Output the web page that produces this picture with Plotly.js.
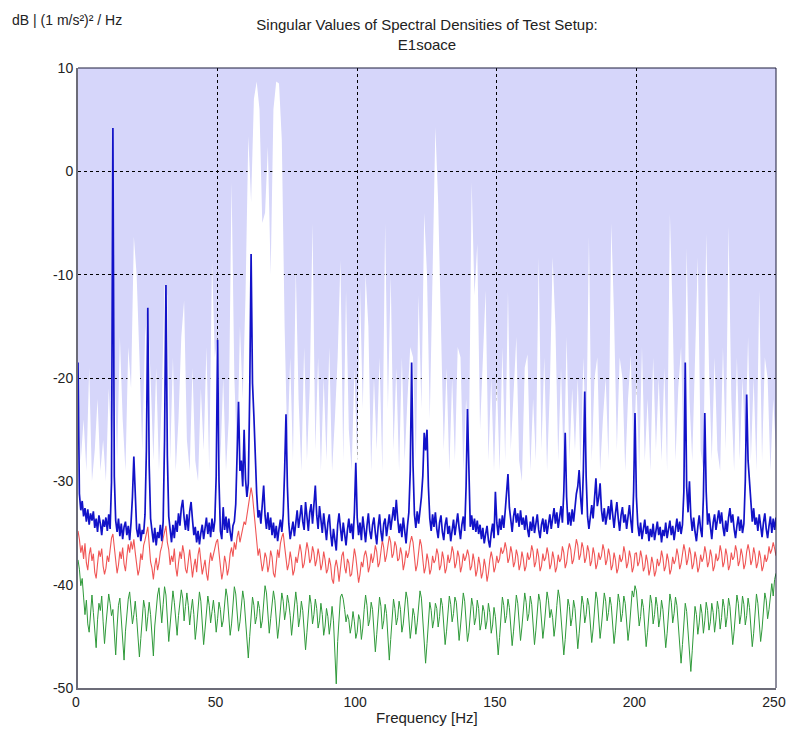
<!DOCTYPE html>
<html>
<head>
<meta charset="utf-8">
<script src="https://cdn.plot.ly/plotly-3.0.1.min.js"></script>
<style>html,body{margin:0;padding:0;background:#fff;}#chart{width:786px;height:729px;}</style>
</head>
<body>
<div id="chart"></div>
<script>
// Frequency resolution of the line series (Hz) and envelope (Hz)
const lineStep = 0.5;
const envStep = 1;

// 1st singular value (blue), dB, 0..250 Hz step 0.5
const sv1 = [
-18.5,-31.2,-32.8,-31.9,-33.4,-32.6,-33.9,-32.7,-34.2,-33.1, -33.8,-32.9,-34.5,-33.6,-34.9,-33.3,-34.1,-35.2,-33.7,-34.4,
-33.5,-34.8,-33.2,-34.6,-30.1,4.2,-29.5,-33.8,-34.9,-33.6, -35.3,-34.1,-35.6,-34.4,-33.9,-35.2,-34.3,-35.7,-34.0,-31.5,
-27.6,-32.4,-34.6,-35.4,-34.1,-35.8,-34.7,-35.1,-33.2,-27.0, -13.2,-28.5,-33.6,-34.8,-35.9,-34.5,-36.2,-34.9,-35.5,-34.2,
-35.8,-33.9,-26.0,-11.0,-27.5,-33.4,-34.6,-35.9,-34.2,-35.5, -33.8,-34.9,-33.1,-34.3,-32.6,-31.8,-33.5,-34.7,-33.2,-34.8,
-32.9,-32.0,-33.7,-35.2,-34.4,-35.9,-34.8,-36.1,-35.0,-34.2, -35.6,-34.3,-33.5,-35.1,-34.0,-35.4,-33.6,-34.9,-33.8,-29.5,
-16.3,-30.0,-34.8,-35.6,-32.5,-34.7,-33.4,-35.0,-33.6,-34.9, -35.8,-34.3,-33.9,-32.2,-28.0,-22.3,-29.0,-28.0,-30.5,-25.0,
-29.8,-31.5,-30.2,-21.5,-8.0,-20.5,-23.7,-28.5,-31.2,-33.5, -32.8,-34.1,-32.0,-30.4,-33.3,-34.6,-33.0,-34.7,-33.5,-35.2,
-34.0,-35.5,-34.3,-35.8,-34.6,-33.7,-34.9,-33.2,-29.0,-23.5, -30.5,-34.1,-35.6,-34.8,-33.9,-35.3,-34.0,-32.8,-34.5,-33.1,
-32.3,-33.9,-34.7,-32.0,-33.4,-34.8,-33.0,-32.2,-34.1,-32.6, -30.4,-33.3,-34.6,-32.4,-33.8,-35.0,-33.1,-34.4,-35.7,-34.0,
-33.2,-35.1,-36.3,-34.6,-35.9,-36.7,-34.2,-33.1,-34.5,-35.8, -34.0,-35.3,-36.2,-34.7,-33.6,-35.0,-34.1,-35.6,-33.0,-28.2,
-33.5,-35.2,-34.0,-35.7,-33.4,-34.6,-35.9,-34.3,-33.1,-34.8, -35.6,-34.2,-33.5,-35.0,-36.1,-34.4,-33.2,-34.9,-35.8,-34.1,
-33.6,-35.3,-34.0,-33.2,-34.7,-33.4,-32.5,-33.8,-31.8,-33.6, -35.0,-34.1,-35.4,-33.5,-34.8,-36.0,-34.3,-33.0,-29.0,-18.5,
-28.5,-33.2,-34.5,-32.9,-34.1,-33.0,-31.5,-29.5,-25.3,-27.0, -25.0,-30.5,-33.6,-34.8,-33.2,-34.4,-33.0,-34.6,-35.5,-34.0,
-33.3,-34.9,-35.7,-34.2,-33.5,-35.1,-34.3,-35.8,-34.6,-33.7, -35.2,-34.0,-33.1,-34.5,-35.6,-34.2,-33.4,-34.8,-30.5,-23.0,
-30.0,-34.4,-33.3,-34.7,-33.6,-34.9,-33.8,-35.1,-34.2,-35.6, -34.5,-36.0,-35.1,-34.3,-35.7,-36.4,-35.0,-34.1,-35.5,-31.0,
-34.0,-35.2,-33.6,-34.7,-33.3,-34.5,-32.9,-31.0,-29.3,-32.5, -33.8,-34.9,-33.4,-32.6,-34.0,-33.1,-34.4,-32.8,-34.2,-33.5,
-34.7,-33.3,-34.6,-35.4,-33.9,-34.8,-33.4,-35.0,-34.1,-33.2, -34.7,-35.5,-34.2,-33.6,-34.9,-33.7,-35.1,-34.0,-33.2,-34.6,
-33.4,-32.6,-34.1,-33.0,-34.5,-33.3,-32.4,-34.0,-31.0,-25.3, -31.5,-34.2,-33.0,-34.3,-32.7,-33.9,-32.5,-31.2,-30.5,-28.9,
-31.5,-33.2,-29.0,-21.3,-29.5,-33.4,-34.6,-33.1,-32.3,-33.6, -31.5,-29.7,-32.4,-31.6,-30.2,-32.8,-33.9,-32.6,-34.2,-33.0,
-32.4,-33.7,-31.8,-33.2,-34.5,-33.1,-32.0,-33.6,-34.8,-33.3, -32.5,-34.0,-33.2,-34.6,-33.5,-32.3,-33.8,-35.0,-31.0,-23.4,
-31.5,-34.2,-35.3,-34.0,-35.6,-34.5,-33.7,-35.1,-34.3,-35.8, -34.6,-35.4,-34.1,-35.7,-34.8,-33.9,-35.2,-34.4,-35.9,-34.7,
-35.3,-34.0,-35.5,-34.6,-33.8,-35.2,-34.3,-35.7,-34.5,-33.6, -34.9,-33.9,-35.1,-34.2,-31.0,-18.5,-30.5,-33.0,-30.0,-33.4,
-34.8,-33.5,-34.9,-35.8,-34.4,-33.3,-34.6,-35.4,-31.5,-23.4, -31.0,-34.2,-33.1,-34.5,-35.6,-34.0,-33.2,-34.7,-33.5,-32.8,
-34.1,-33.0,-34.4,-35.3,-33.8,-34.9,-33.5,-32.6,-34.0,-33.2, -34.6,-35.5,-34.3,-33.4,-34.8,-33.7,-35.0,-34.1,-30.0,-21.6,
-28.0,-30.0,-32.8,-33.9,-32.6,-34.2,-33.5,-34.8,-33.2,-34.5, -35.4,-34.0,-33.1,-34.6,-35.5,-34.3,-33.4,-35.0,-33.6,-34.7,
-33.5
];

// 2nd singular value (red)
const sv2 = [
-34.8,-35.6,-36.9,-36.2,-37.5,-36.0,-37.9,-38.6,-37.1,-36.4, -37.7,-37.0,-38.8,-39.4,-38.0,-36.7,-37.3,-36.5,-38.2,-39.0,
-38.4,-37.2,-37.8,-36.3,-35.5,-35.1,-36.2,-37.6,-38.9,-38.1, -36.8,-37.5,-36.4,-38.0,-38.7,-37.3,-36.1,-36.9,-35.8,-36.6,
-35.6,-36.9,-38.3,-39.1,-38.5,-37.0,-37.6,-36.2,-35.7,-34.9, -34.4,-36.1,-37.8,-38.4,-39.5,-38.2,-37.4,-38.6,-37.9,-36.8,
-36.3,-35.5,-34.8,-34.3,-35.9,-36.6,-38.1,-37.2,-37.8,-36.5, -38.3,-39.2,-37.9,-36.8,-37.5,-36.2,-37.0,-38.5,-38.9,-37.4,
-36.6,-37.9,-39.3,-38.2,-37.5,-38.8,-37.1,-36.4,-37.6,-39.0, -38.3,-37.6,-38.9,-39.6,-38.0,-36.9,-37.7,-37.0,-36.3,-35.9,
-35.6,-36.8,-38.3,-39.5,-38.7,-37.2,-37.9,-39.1,-38.4,-37.0, -36.4,-37.3,-35.9,-36.6,-35.4,-34.8,-35.9,-35.1,-34.5,-33.9,
-34.2,-33.4,-32.6,-31.6,-30.6,-31.4,-33.0,-34.8,-35.6,-37.2, -36.5,-37.6,-38.7,-38.0,-36.9,-37.4,-38.8,-38.1,-36.7,-37.3,
-38.9,-39.3,-37.8,-36.6,-37.4,-36.0,-35.4,-35.0,-36.3,-37.5, -38.6,-38.0,-36.8,-37.7,-39.1,-38.6,-37.3,-37.9,-37.0,-36.1,
-36.9,-38.4,-38.0,-36.7,-35.9,-36.6,-37.9,-37.5,-36.3,-36.9, -38.2,-37.6,-36.5,-37.3,-38.6,-38.0,-36.8,-37.6,-38.9,-38.5,
-37.4,-38.1,-39.5,-39.9,-38.3,-37.6,-38.4,-39.7,-38.6,-37.2, -36.8,-38.3,-38.9,-37.5,-37.9,-39.2,-39.0,-37.6,-36.5,-37.3,
-38.7,-39.8,-39.0,-37.8,-38.3,-37.2,-36.7,-37.4,-38.8,-38.2, -37.0,-37.9,-37.3,-36.2,-36.8,-38.3,-37.9,-36.6,-35.7,-36.4,
-37.8,-37.2,-36.0,-35.3,-35.9,-37.4,-37.0,-35.8,-36.3,-37.7, -37.5,-36.4,-37.1,-38.6,-37.9,-36.7,-37.4,-36.9,-35.9,-35.3,
-35.9,-37.3,-38.7,-38.1,-36.8,-35.6,-36.2,-37.6,-38.9,-38.3, -37.0,-37.7,-39.0,-38.5,-37.2,-37.9,-37.6,-36.5,-37.1,-38.6,
-38.1,-36.8,-37.5,-38.9,-38.4,-37.1,-37.9,-37.4,-36.3,-36.9, -38.4,-37.9,-36.7,-37.3,-38.8,-38.2,-37.0,-37.7,-37.3,-36.6,
-37.2,-38.6,-38.2,-37.0,-37.8,-39.2,-38.6,-37.3,-38.1,-39.4, -38.8,-37.5,-38.3,-39.7,-38.9,-37.6,-36.8,-37.5,-38.8,-38.3,
-37.2,-37.9,-37.5,-36.4,-37.0,-36.7,-35.9,-36.6,-37.9,-37.4, -36.3,-37.0,-38.3,-37.8,-36.6,-37.2,-38.6,-38.0,-36.8,-37.5,
-38.7,-38.2,-36.9,-37.6,-37.3,-36.2,-36.8,-38.3,-37.8,-36.5, -37.3,-38.7,-38.2,-37.0,-37.7,-37.4,-36.4,-37.1,-38.5,-38.0,
-36.8,-37.5,-38.8,-38.3,-37.1,-37.8,-37.5,-36.3,-36.9,-38.4, -37.9,-36.7,-36.0,-36.6,-38.0,-37.6,-36.3,-35.6,-36.2,-37.6,
-37.1,-35.9,-36.5,-37.9,-37.4,-36.2,-36.8,-38.2,-37.7,-36.4, -37.1,-38.5,-38.0,-36.9,-37.6,-37.2,-36.1,-36.7,-38.1,-37.6,
-36.5,-37.2,-38.6,-38.1,-36.9,-37.6,-38.9,-38.4,-37.1,-37.8, -37.5,-36.3,-37.0,-38.4,-37.9,-36.7,-37.4,-38.8,-38.3,-37.0,
-36.9,-38.2,-37.8,-36.7,-37.4,-38.7,-38.3,-37.1,-37.8,-39.1, -38.5,-37.3,-38.0,-39.2,-38.7,-37.5,-38.2,-37.8,-36.7,-37.4,
-38.7,-38.2,-37.0,-37.7,-39.0,-38.5,-37.3,-38.0,-37.6,-36.5, -37.2,-38.5,-38.0,-36.9,-36.1,-36.8,-38.1,-37.5,-36.4,-37.1,
-38.5,-38.0,-36.8,-37.5,-38.8,-38.3,-37.1,-37.8,-37.4,-36.3, -37.0,-38.3,-37.8,-36.6,-37.3,-38.7,-38.2,-37.0,-37.7,-37.4,
-36.2,-36.9,-38.3,-37.8,-36.5,-37.2,-38.6,-38.1,-36.9,-37.6, -37.3,-36.2,-36.8,-38.2,-37.7,-36.5,-37.2,-38.5,-38.0,-36.8,
-36.1,-36.8,-38.1,-37.6,-36.4,-37.1,-38.4,-37.9,-36.7,-37.4, -38.7,-38.2,-37.1,-37.8,-37.4,-36.3,-37.0,-36.6,-35.9,-36.5,
-37.2
];

// 3rd singular value (green)
const sv3 = [
-37.6,-38.5,-40.1,-39.4,-41.2,-42.9,-41.5,-43.8,-44.6,-42.3, -41.0,-42.7,-44.9,-46.1,-43.4,-41.8,-42.5,-41.1,-43.6,-45.7,
-43.9,-42.2,-40.9,-41.8,-43.0,-42.4,-44.3,-46.8,-44.1,-42.0, -41.3,-43.5,-45.9,-47.3,-44.5,-42.6,-41.4,-40.7,-42.1,-43.8,
-42.9,-41.6,-43.2,-44.8,-47.0,-45.2,-42.8,-41.5,-42.3,-44.5, -43.1,-41.7,-42.9,-45.6,-46.9,-44.0,-42.4,-41.0,-40.3,-42.6,
-43.7,-41.9,-40.2,-41.0,-42.8,-45.5,-43.9,-42.0,-40.6,-41.7, -43.4,-44.9,-43.0,-41.9,-40.5,-41.3,-43.5,-42.1,-40.8,-42.0,
-43.9,-42.5,-41.4,-42.9,-45.3,-44.0,-42.2,-40.7,-41.6,-43.9, -45.8,-44.3,-42.7,-41.1,-42.0,-43.7,-42.6,-41.5,-42.8,-44.6,
-43.3,-41.7,-42.4,-44.1,-43.5,-41.9,-40.4,-41.2,-42.8,-44.9, -43.8,-42.1,-40.2,-40.9,-42.7,-44.5,-43.6,-41.8,-40.6,-41.5,
-43.2,-45.4,-47.1,-45.0,-42.9,-41.2,-42.0,-43.8,-43.1,-41.6, -42.3,-44.2,-43.5,-41.8,-40.1,-40.8,-42.6,-44.7,-43.3,-41.9,
-40.6,-41.5,-43.1,-45.2,-44.0,-42.1,-40.8,-41.6,-43.4,-42.5, -41.0,-41.8,-43.0,-44.9,-43.7,-42.0,-40.7,-41.9,-44.1,-43.2,
-41.6,-42.5,-44.4,-46.3,-44.6,-42.5,-41.0,-41.9,-43.8,-42.9, -41.4,-42.3,-44.2,-43.5,-41.8,-42.9,-44.9,-44.0,-42.3,-43.1,
-44.8,-43.7,-42.1,-43.5,-45.9,-49.6,-45.5,-43.2,-41.2,-40.9, -41.4,-42.4,-43.6,-42.9,-43.4,-44.7,-43.9,-42.6,-43.6,-45.2,
-44.6,-42.9,-43.4,-45.3,-44.2,-42.4,-41.0,-42.0,-44.0,-43.4, -41.7,-42.4,-44.5,-46.5,-44.8,-42.6,-41.2,-42.1,-44.3,-43.5,
-41.9,-42.8,-45.0,-47.3,-45.3,-43.0,-41.4,-42.3,-43.9,-43.2, -41.6,-42.4,-44.6,-43.8,-42.1,-40.7,-41.4,-43.2,-45.2,-44.0,
-42.3,-43.0,-44.8,-43.7,-42.0,-40.6,-41.3,-43.1,-45.3,-47.6, -45.7,-43.4,-41.7,-42.5,-44.2,-43.4,-41.8,-42.3,-44.1,-43.1,
-41.3,-42.0,-43.7,-45.8,-44.5,-42.7,-41.1,-41.9,-43.6,-42.8, -41.2,-41.7,-43.3,-45.4,-44.0,-42.2,-40.8,-41.6,-43.4,-45.5,
-44.6,-42.8,-41.3,-42.1,-43.9,-43.2,-41.5,-42.3,-44.4,-43.7, -42.0,-42.6,-44.3,-43.5,-41.8,-42.7,-44.7,-43.9,-42.2,-43.1,
-45.0,-46.8,-45.1,-42.9,-41.2,-42.0,-43.7,-43.0,-41.4,-42.2, -44.0,-45.9,-44.5,-42.6,-41.0,-41.8,-43.6,-45.4,-44.1,-42.3,
-40.8,-41.7,-43.5,-42.8,-41.1,-41.9,-43.8,-45.8,-44.4,-42.4, -40.9,-41.6,-43.3,-45.2,-44.0,-42.1,-40.7,-41.5,-43.2,-42.4,
-43.2,-45.0,-43.9,-42.0,-40.5,-41.3,-43.0,-45.1,-46.8,-45.3, -43.1,-41.4,-42.1,-44.0,-43.2,-41.5,-42.3,-44.3,-46.2,-44.7,
-42.8,-41.1,-41.9,-43.7,-42.9,-41.3,-42.0,-43.9,-45.6,-44.3, -42.4,-40.7,-41.4,-43.3,-45.2,-43.9,-42.1,-40.8,-41.6,-43.5,
-42.7,-41.2,-42.0,-43.8,-45.7,-44.4,-42.5,-40.9,-41.7,-43.6, -42.8,-41.1,-41.8,-43.6,-45.4,-44.2,-42.3,-40.6,-41.2,-40.1,
-40.6,-42.1,-44.0,-43.1,-41.4,-42.2,-44.2,-46.0,-44.6,-42.7, -41.0,-41.8,-43.8,-42.9,-41.2,-42.1,-44.1,-43.2,-41.5,-42.4,
-44.3,-46.1,-44.7,-42.5,-40.9,-41.7,-43.7,-42.8,-41.2,-42.0, -43.9,-45.8,-47.6,-45.8,-43.5,-41.8,-42.6,-44.5,-47.2,-48.4,
-46.4,-44.0,-42.1,-42.9,-44.8,-43.7,-41.9,-42.8,-44.7,-43.5, -41.7,-42.5,-44.4,-43.6,-41.8,-42.7,-44.6,-43.4,-41.6,-42.4,
-44.3,-43.2,-41.4,-42.2,-44.1,-43.1,-41.3,-42.1,-44.0,-45.8, -44.5,-42.6,-41.0,-41.8,-43.8,-42.9,-41.1,-41.9,-43.9,-43.0,
-41.3,-42.2,-44.1,-46.0,-44.7,-42.7,-40.9,-41.8,-43.7,-45.5, -44.3,-42.4,-40.8,-41.5,-43.3,-42.4,-40.7,-39.9,-41.1,-39.5,
-38.9
];

// Upper envelope of all test-setup spectra (white area), 0..250 Hz step 1
const envelope = [
-20,-28,-24,-29,-19,-30,-27,-22,-29,-26,
-30,-21,-27,-18,-28,-16,-24,-29,-17,-21,
-6.3,-10,-18,-27,-16,-13,-20,-28,-19,-29,
-22,-11,-12,-28,-18,-29,-24,-16,-12.5,-26,
-29,-19,-28,-30,-21,-27,-17,-29,-8.6,-18,
-16,-28,-20,-29,-24,-1,-20,-28,-15,-22,
-12,3.4,-3,7,8.7,6,-5,-4,2.4,-10,
6,8.7,8.5,3,-15,-27,-18,-28,-9.5,-22,
-29,-17,-28,-21,-5,-27,-18,-29,-20,-28,
-17,-29,-24,-18,-8.6,-28,-11.5,-25,-29,-19,
-28,-11,-23,-10,-15,-29,-20,-27,-18,-29,
-5,-23,-10,-27,-19,-29,-18,-28,-22,-17,
-18,-28,-12,-23,-4,-10,-24,-8,4.3,-3,
-15,-27,-19,-29,-20,-28,-17,-18,-29,-22,
-27,-1,-12,-7,-25,-19,-11.5,-28,-20,-29,
-20,-29,-17,-28,-11.6,-27,-21,-16,-28,-30,
-19,-17.7,-29,-22,-28,-8.3,-27,-18,-29,-21,
-8.3,-15,-28,-19,-29,-16,-28,-21,-27,-20,
-29,-18,-27,-6.3,-28,-20,-18,-29,-24,-20,
-28,-5,-14,-27,-18,-20,-29,-22,-17.8,-28,
-20,-29,-17,-28,-22,-29,-18,-27,-20,-28,
-19,-29,-4.1,-14,-28,-21,-17,-29,-7.4,-22,
-28,-18,-8.3,-27,-29,-6,-19,-28,-18,-27,
-29,-17,-27,-5.3,-22,-29,-18,-28,-20,-27,
-16,-28,-20,-29,-11.5,-28,-18,-20,-29,-22,
-27
];

const xRange = [0, 250];
const yRange = [-50, 10];
const xTicks = [0, 50, 100, 150, 200, 250];
const yTicks = [10, 0, -10, -20, -30, -40, -50];
const yTickText = ['10', '0', '-10', '-20', '-30', '-40', '-50'];

const freqs = (arr, step) => arr.map((_, i) => i * step);

const traces = [
  { x: xRange, y: [yRange[0], yRange[0]], mode: 'lines', line: { width: 0 }, hoverinfo: 'skip', showlegend: false },
  { x: freqs(envelope, envStep), y: envelope, mode: 'lines', fill: 'tonexty', fillcolor: '#ffffff',
    line: { width: 0, color: '#ffffff' }, hoverinfo: 'skip', showlegend: false },
  { x: freqs(sv3, lineStep), y: sv3, mode: 'lines', line: { color: '#2f9a3a', width: 1 }, showlegend: false },
  { x: freqs(sv2, lineStep), y: sv2, mode: 'lines', line: { color: '#f05555', width: 1.1 }, showlegend: false },
  { x: freqs(sv1, lineStep), y: sv1, mode: 'lines', line: { color: '#1212c8', width: 1.7 }, showlegend: false }
];

const FONT = 'Liberation Sans, Arial, sans-serif';
const tickFont = { family: FONT, size: 14, color: '#222' };
const labelFont = { family: FONT, size: 15, color: '#222' };
const unitFont = { family: FONT, size: 14, color: '#222' };

const layout = {
  width: 786, height: 729,
  margin: { l: 78, r: 10, t: 68, b: 41 },
  paper_bgcolor: '#ffffff',
  plot_bgcolor: '#d6d6fa',
  font: tickFont,
  title: {
    text: 'Singular Values of Spectral Densities of Test Setup:<br>E1soace',
    font: labelFont,
    x: 427 / 786, xanchor: 'center', y: 1 - 30 / 729, yanchor: 'middle'
  },
  xaxis: {
    range: xRange, tickvals: xTicks, ticks: '', tickfont: tickFont, ticklabeloverflow: 'allow',
    ticklabelshift: -2,
    showgrid: true, gridcolor: '#000', griddash: 'dot', gridwidth: 1,
    showline: true, linecolor: '#6c6c78', linewidth: 2, mirror: false, zeroline: false,
    fixedrange: true
  },
  yaxis: {
    range: yRange, tickvals: yTicks, ticktext: yTickText, ticks: '', tickfont: tickFont, ticklabeloverflow: 'allow',
    showgrid: true, gridcolor: '#000', griddash: 'dot', gridwidth: 1,
    showline: true, linecolor: '#6c6c78', linewidth: 2, mirror: false, zeroline: false,
    fixedrange: true
  },
  shapes: [
    { type: 'line', xref: 'paper', yref: 'paper', x0: 0, x1: 1, y0: 1, y1: 1, line: { color: '#1c1c3a', width: 1 } },
    { type: 'line', xref: 'paper', yref: 'paper', x0: 1, x1: 1, y0: 0, y1: 1, line: { color: '#1c1c3a', width: 1 } }
  ],
  annotations: [
    { text: 'dB | (1 m/s²)² / Hz', xref: 'paper', yref: 'paper',
      x: (10 - 78) / 698, y: (688 - 20) / 620, xanchor: 'left', yanchor: 'middle',
      showarrow: false, font: unitFont },
    { text: 'Frequency [Hz]', xref: 'paper', yref: 'paper',
      x: 0.5, y: (688 - 717) / 620, xanchor: 'center', yanchor: 'middle',
      showarrow: false, font: labelFont }
  ]
};

Plotly.newPlot('chart', traces, layout, { displayModeBar: false, staticPlot: true });
</script>
</body>
</html>
